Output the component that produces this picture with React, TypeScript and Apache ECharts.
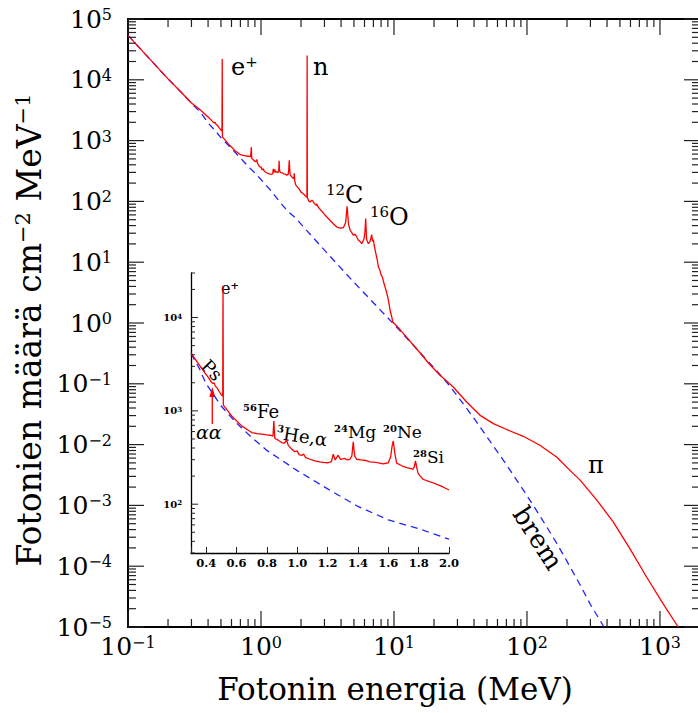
import React, { useEffect, useRef } from "react";
import * as echarts from "echarts";

// ---------- data (photon energy in MeV, photon count per cm^2 per MeV) ----------
const lowEnergySpectrum: [number, number][] = [
  [0.1, 53700], [0.15, 20500], [0.2, 10350], [0.25, 6300], [0.3, 4150], [0.33, 3550],
  [0.359, 3030], [0.39, 2570], [0.414, 2280], [0.436, 2010], [0.445, 1960], [0.452, 2000],
  [0.46, 1840], [0.47, 1780], [0.485, 1620], [0.502, 1470], [0.509, 1440], [0.511, 21900],
  [0.513, 1150], [0.54, 1010], [0.568, 883], [0.6, 783], [0.634, 690], [0.67, 631],
  [0.7, 586], [0.735, 570], [0.765, 562], [0.8, 553], [0.82, 548], [0.835, 540],
  [0.84, 535], [0.846, 780], [0.852, 510], [0.86, 500], [0.875, 485], [0.897, 458],
  [0.915, 450], [0.925, 470], [0.93, 489], [0.94, 430], [0.963, 389], [0.985, 365],
  [1.0, 372], [1.012, 340], [1.03, 333], [1.042, 345], [1.055, 316], [1.08, 305],
  [1.116, 291], [1.15, 284], [1.17, 280], [1.2, 278], [1.225, 285], [1.237, 344],
  [1.25, 298], [1.27, 335], [1.285, 302], [1.314, 309], [1.33, 298], [1.347, 303],
  [1.36, 330], [1.369, 466], [1.378, 330], [1.391, 303], [1.42, 298], [1.45, 294],
  [1.478, 284], [1.52, 281], [1.566, 270], [1.6, 278], [1.615, 320], [1.626, 430],
  [1.633, 476], [1.642, 360], [1.655, 275], [1.69, 258], [1.72, 247], [1.764, 237],
  [1.772, 255], [1.779, 291], [1.788, 245], [1.796, 215], [1.81, 200], [1.829, 185],
  [1.87, 175], [1.917, 164], [1.96, 153], [2.0, 142],
];

const nuclearLineSpectrum: [number, number][] = [
  [2.08, 134], [2.15, 124], [2.215, 117], [2.223, 25100], [2.231, 115], [2.3, 100],
  [2.34, 98], [2.4, 104], [2.45, 102], [2.52, 92], [2.6, 86], [2.63, 92], [2.66, 84],
  [2.75, 76], [2.9, 67], [3.0, 61], [3.13, 55.3], [3.3, 49], [3.5, 43], [3.72, 37.9],
  [3.95, 36.5], [4.17, 37.1], [4.33, 45], [4.44, 83], [4.55, 42], [4.68, 33.5],
  [4.8, 31], [4.96, 27.5], [5.1, 29], [5.2, 27], [5.4, 23], [5.55, 22], [5.72, 20.2],
  [5.95, 24], [6.05, 32], [6.13, 52.1], [6.22, 24], [6.35, 21], [6.43, 20.2], [6.6, 22],
  [6.72, 25], [6.8, 28.4], [6.9, 22], [7.0, 23.5], [7.1, 19], [7.3, 14], [7.45, 11.5],
  [7.64, 8.3], [7.8, 7.6], [8.0, 6.2], [8.2, 5.6], [8.4, 4.5], [8.57, 3.9], [8.8, 3.2],
  [9.0, 2.6], [9.2, 2.0], [9.35, 1.62], [9.6, 1.28], [9.8, 1.04],
];

const pionTail: [number, number][] = [
  [11.1, 0.78], [15, 0.363], [18.5, 0.21], [22.2, 0.138], [27.9, 0.0885], [35.2, 0.0501],
  [44.4, 0.0303], [55.9, 0.0221], [70.3, 0.0177], [93.8, 0.0137], [125, 0.00975],
  [167, 0.00625], [223, 0.00333], [250, 0.00263], [334, 0.00123], [445, 0.000537],
  [594, 0.000195], [793, 0.0000664], [1057, 0.000024], [1371, 0.00001],
];

const bremsstrahlung: [number, number][] = [
  [0.1, 53700], [0.15, 20500], [0.2, 10350], [0.25, 6300], [0.3, 4100], [0.35, 2950],
  [0.4, 1950], [0.45, 1480], [0.5, 1120], [0.6, 740], [0.7, 519], [0.8, 377], [0.9, 294],
  [1.0, 229], [1.2, 146], [1.4, 94.6], [1.6, 68], [1.8, 54.6], [2.0, 42.2], [3, 15.8],
  [5, 4.67], [10, 0.95], [15, 0.363], [20, 0.183], [25, 0.105], [30, 0.063], [40, 0.0269],
  [53, 0.0112], [70, 0.00468], [94, 0.00178], [125, 0.000676], [167, 0.00024],
  [200, 0.00012], [250, 0.00005], [300, 0.0000234], [380, 0.00001],
];

const mainXRange = [0.1, 2000];
const mainYRange = [1e-5, 1e5];
const mainXDecades = [-1, 0, 1, 2, 3];
const mainYDecades = [-5, -4, -3, -2, -1, 0, 1, 2, 3, 4, 5];
const insetXRange = [0.3, 2.0];
const insetYRange = [30, 30000];
const insetYDecades = [1, 2, 3, 4];

const FONT = "'DejaVu Serif', serif";
const RED = "#ff0000";
const BLUE = "#2222ff";

// ---------- helpers ----------
const logTicks = (decades: number[], lo: number, hi: number) => {
  const out: [number, number][] = [];
  decades.forEach((d) => {
    for (let m = 1; m <= 9; m++) {
      const v = m * Math.pow(10, d);
      if (v >= lo * 0.999 && v <= hi * 1.001) out.push([v, m === 1 ? 1 : 0]);
    }
  });
  return out;
};

const expLabel = (v: number) => {
  const e = Math.log10(v);
  const r = Math.round(e);
  if (Math.abs(e - r) > 1e-6) return "";
  return `{b|10}{s|${r < 0 ? "\u2212" + -r : r}}`;
};

const inRange = (pts: [number, number][], lo: number, hi: number) =>
  pts.filter((p) => p[0] >= lo - 1e-9 && p[0] <= hi + 1e-9);

export default function App() {
  const ref = useRef<HTMLDivElement>(null);

  useEffect(() => {
    if (!ref.current) return;
    const chart = echarts.init(ref.current, undefined, { renderer: "svg" });
    const spectrum = [...lowEnergySpectrum, ...nuclearLineSpectrum, ...pionTail];

    const mainXTicks = logTicks(mainXDecades, mainXRange[0], mainXRange[1]).map((t) => [t[0], 1, t[1]]);
    const mainYTicks = logTicks(mainYDecades, mainYRange[0], mainYRange[1]).map((t) => [1, t[0], t[1]]);
    const insetYTicks = logTicks(insetYDecades, insetYRange[0], insetYRange[1]).map((t) => [1, t[0], t[1]]);

    const tickStyle = { stroke: "#222", lineWidth: 1.2 };

    const mainRich = {
      b: { fontFamily: FONT, fontSize: 25, color: "#000" },
      s: { fontFamily: FONT, fontSize: 16, color: "#000", verticalAlign: "top" },
    };
    const insetRich = {
      b: { fontFamily: FONT, fontSize: 10, fontWeight: "bold", color: "#000" },
      s: { fontFamily: FONT, fontSize: 7, fontWeight: "bold", color: "#000", verticalAlign: "top" },
    };

    const supRich = (size: number, supSize: number, boldSup: boolean) => ({
      m: { fontFamily: FONT, fontSize: size, color: "#000" },
      s: { fontFamily: FONT, fontSize: supSize, color: "#000", fontWeight: boldSup ? "bold" : "normal", verticalAlign: "top" },
    });

    const label = (text: string, x: number, y: number, size: number, supSize: number, extra: any = {}) => ({
      type: "text",
      x,
      y,
      rotation: extra.rotation || 0,
      style: {
        text,
        rich: supRich(size, supSize, !!extra.boldSup),
        align: extra.align || "left",
        verticalAlign: "middle",
        fill: "#000",
      },
    });

    chart.setOption({
      animation: false,
      backgroundColor: "#fff",
      grid: [
        {
          left: 128, top: 19, right: -2, bottom: 86, show: true, borderColor: "#000", borderWidth: 2,
          backgroundColor: "transparent", containLabel: false, outerBoundsMode: "none",
        },
        { left: 191, top: 273, width: 258, height: 280, containLabel: false, outerBoundsMode: "none" },
      ],
      xAxis: [
        {
          type: "log", gridIndex: 0, logBase: 10, min: mainXRange[0], max: mainXRange[1], interval: 1,
          axisLine: { show: false }, axisTick: { show: false }, splitLine: { show: false },
          axisLabel: { formatter: expLabel, rich: mainRich, margin: 7 },
          name: "Fotonin energia (MeV)", nameLocation: "middle", nameGap: 46,
          nameTextStyle: { fontFamily: FONT, fontSize: 31, color: "#000", padding: [0, 38, 0, 0] },
        },
        {
          type: "value", gridIndex: 1, min: insetXRange[0], max: insetXRange[1], splitNumber: 8,
          axisLine: { show: true, lineStyle: { color: "#000", width: 1.3 } },
          axisTick: { show: true, inside: true, length: 6, lineStyle: { color: "#222", width: 1 } },
          splitLine: { show: false },
          axisLabel: {
            margin: 4, fontFamily: FONT, fontSize: 11.5, fontWeight: "bold", color: "#000",
            formatter: (v: number) => (Math.abs(v * 5 - Math.round(v * 5)) < 1e-6 ? v.toFixed(1) : ""),
          },
        },
      ],
      yAxis: [
        {
          type: "log", gridIndex: 0, logBase: 10, min: mainYRange[0], max: mainYRange[1], interval: 1,
          axisLine: { show: false }, axisTick: { show: false }, splitLine: { show: false },
          axisLabel: { formatter: expLabel, rich: mainRich, margin: 16 },
          name: "{a|Fotonien määrä cm}{s|\u22122}{a| MeV}{s|\u22121}",
          nameLocation: "middle", nameGap: 74, nameRotate: 90,
          nameTextStyle: {
            padding: [0, 14, 0, 0],
            rich: {
              a: { fontFamily: FONT, fontSize: 33, color: "#000" },
              s: { fontFamily: FONT, fontSize: 21, color: "#000", verticalAlign: "top" },
            },
          },
        },
        {
          type: "log", gridIndex: 1, logBase: 10, min: insetYRange[0], max: insetYRange[1],
          axisLine: { show: true, lineStyle: { color: "#000", width: 1.3 } },
          axisTick: { show: false }, splitLine: { show: false },
          axisLabel: { formatter: expLabel, rich: insetRich, margin: 9, showMinLabel: true, showMaxLabel: true },
        },
      ],
      series: [
        {
          type: "line", name: "brem", xAxisIndex: 0, yAxisIndex: 0, data: bremsstrahlung,
          showSymbol: false, lineStyle: { color: BLUE, width: 1.3, type: [7, 5] }, z: 3,
        },
        {
          type: "line", name: "spectrum", xAxisIndex: 0, yAxisIndex: 0, data: spectrum,
          showSymbol: false, lineStyle: { color: RED, width: 1.3 }, z: 4,
        },
        {
          type: "line", name: "brem inset", xAxisIndex: 1, yAxisIndex: 1,
          data: inRange(bremsstrahlung, insetXRange[0], insetXRange[1]),
          showSymbol: false, lineStyle: { color: BLUE, width: 1.3, type: [7, 5] }, z: 3,
        },
        {
          type: "line", name: "spectrum inset", xAxisIndex: 1, yAxisIndex: 1,
          data: inRange(spectrum, insetXRange[0], insetXRange[1]),
          showSymbol: false, lineStyle: { color: RED, width: 1.3 }, z: 4,
        },
        {
          type: "custom", xAxisIndex: 0, yAxisIndex: 0, data: mainXTicks, encode: { x: 0, y: 1 }, silent: true, z: 5,
          renderItem: (params: any, api: any) => {
            const x = api.coord([api.value(0), 1])[0];
            const cs = params.coordSys;
            const len = api.value(2) === 1 ? 16 : 8;
            const b = cs.y + cs.height;
            return {
              type: "group",
              children: [
                { type: "line", shape: { x1: x, y1: b, x2: x, y2: b - len }, style: tickStyle },
                { type: "line", shape: { x1: x, y1: cs.y, x2: x, y2: cs.y + len }, style: tickStyle },
              ],
            };
          },
        },
        {
          type: "custom", xAxisIndex: 0, yAxisIndex: 0, data: mainYTicks, encode: { x: 0, y: 1 }, silent: true, z: 5,
          renderItem: (params: any, api: any) => {
            const y = api.coord([1, api.value(1)])[1];
            const cs = params.coordSys;
            const len = api.value(2) === 1 ? 16 : 8;
            const r = cs.x + cs.width;
            return {
              type: "group",
              children: [
                { type: "line", shape: { x1: cs.x, y1: y, x2: cs.x + len, y2: y }, style: tickStyle },
                { type: "line", shape: { x1: r, y1: y, x2: r - len, y2: y }, style: tickStyle },
              ],
            };
          },
        },
        {
          type: "custom", xAxisIndex: 1, yAxisIndex: 1, data: insetYTicks, encode: { x: 0, y: 1 }, silent: true, z: 5,
          renderItem: (params: any, api: any) => {
            const y = api.coord([1, api.value(1)])[1];
            const cs = params.coordSys;
            const len = api.value(2) === 1 ? 7 : 4;
            return { type: "line", shape: { x1: cs.x, y1: y, x2: cs.x + len, y2: y }, style: { stroke: "#222", lineWidth: 1 } };
          },
        },
      ],
      graphic: [
        label("{m|e}{s|+}", 231, 66.5, 24, 15),
        label("{m|n}", 313, 66.5, 24, 15),
        label("{s|12}{m|C}", 326, 194.5, 24, 15),
        label("{s|16}{m|O}", 370, 216.5, 24, 15),
        label("{m|\u03c0}", 588, 465, 24, 15),
        label("{m|brem}", 538, 538, 26, 15, { align: "center", rotation: -1.0 }),
        label("{m|e}{s|+}", 221, 288, 16, 10, { boldSup: true }),
        label("{m|Ps}", 212, 370, 18, 10, { align: "center", rotation: -0.8 }),
        {
          type: "text", x: 196, y: 432,
          style: { text: "\u03b1\u03b1", fontFamily: FONT, fontSize: 19, fontStyle: "italic", fill: "#000", verticalAlign: "middle" },
        },
        { type: "line", shape: { x1: 212.3, y1: 424, x2: 212.3, y2: 395 }, style: { stroke: RED, lineWidth: 1.3 } },
        { type: "polygon", shape: { points: [[212.3, 387], [209.3, 397], [215.3, 397]] }, style: { fill: RED } },
        label("{s|56}{m|Fe}", 243, 411, 18, 10, { boldSup: true }),
        label("{s|3}{m|He,\u03b1}", 302, 436, 18, 10, { align: "center", rotation: -0.15, boldSup: true }),
        label("{s|24}{m|Mg}", 334, 432, 17, 10, { boldSup: true }),
        label("{s|20}{m|Ne}", 383, 432, 17, 10, { boldSup: true }),
        label("{s|28}{m|Si}", 413, 457, 17, 10, { boldSup: true }),
      ],
    });

    return () => chart.dispose();
  }, []);

  return <div ref={ref} style={{ position: "absolute", left: 0, top: 0, width: 698, height: 713 }} />;
}
